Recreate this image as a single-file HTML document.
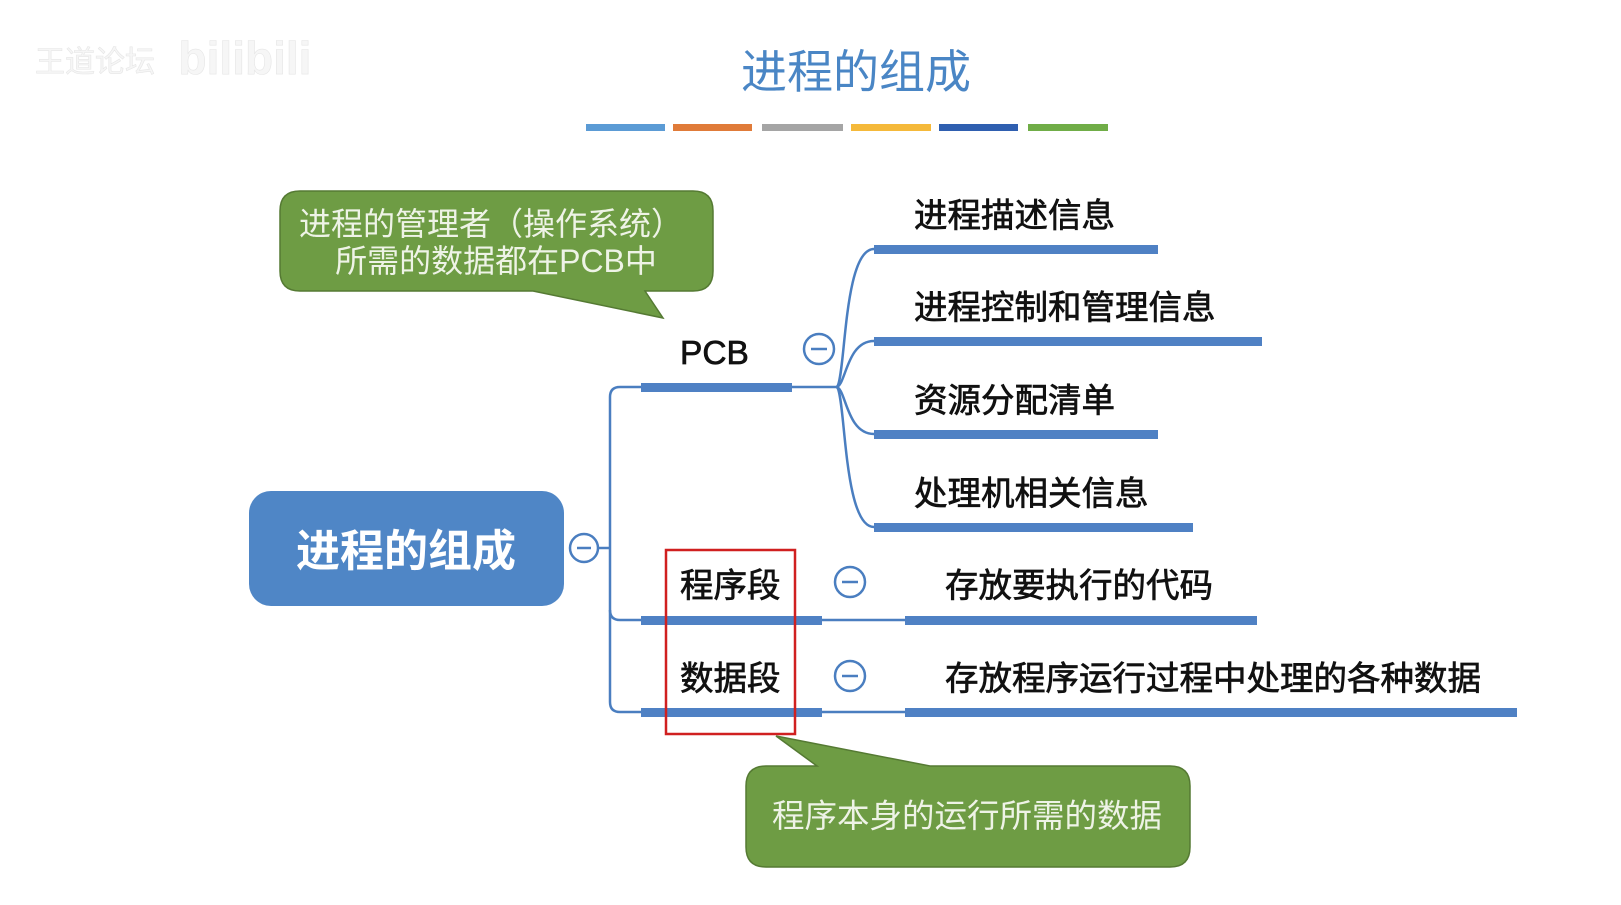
<!DOCTYPE html>
<html><head><meta charset="utf-8"><style>
html,body{margin:0;padding:0;background:#fff;width:1621px;height:905px;overflow:hidden}
svg{display:block}
text{font-family:"Liberation Sans","Noto Sans CJK SC",sans-serif}
</style></head><body>
<svg width="1621" height="905" viewBox="0 0 1621 905" xmlns="http://www.w3.org/2000/svg">
<text x="95" y="72" font-size="30" fill="#f6f6f6" stroke="#e6e6e6" stroke-width="0.6" text-anchor="middle">王道论坛</text>
<text x="245" y="74" font-size="46" font-weight="bold" fill="#f6f6f6" stroke="#e6e6e6" stroke-width="0.6" text-anchor="middle">bilibili</text>

<text x="856" y="88" font-size="46" fill="#4a86c5" text-anchor="middle">进程的组成</text>
<g>
<rect x="586" y="124" width="79" height="7" fill="#5b9bd5"/>
<rect x="673" y="124" width="79" height="7" fill="#e07b39"/>
<rect x="762" y="124" width="81" height="7" fill="#a5a5a5"/>
<rect x="851" y="124" width="80" height="7" fill="#f5b93a"/>
<rect x="939" y="124" width="79" height="7" fill="#2f5fb0"/>
<rect x="1028" y="124" width="80" height="7" fill="#70ad47"/>
</g>

<!-- callout 1 -->
<path d="M300,191 H693 Q713,191 713,211 V271 Q713,291 693,291 H645 L663,318 L533,291 H300 Q280,291 280,271 V211 Q280,191 300,191 Z" fill="#6e9c44" stroke="#557a33" stroke-width="1.5"/>
<text x="491" y="235" font-size="32" fill="#eef3e6" text-anchor="middle">进程的管理者（操作系统）</text>
<text x="496" y="272" font-size="32" fill="#eef3e6" text-anchor="middle">所需的数据都在PCB中</text>

<!-- root -->
<rect x="249" y="491" width="315" height="115" rx="22" fill="#4f86c6"/>
<text x="406" y="566" font-size="44" font-weight="bold" fill="#fff" text-anchor="middle">进程的组成</text>

<g fill="none" stroke="#4a7ec0" stroke-width="2.5">
<circle cx="584" cy="548" r="14" fill="#fff"/>
<line x1="598" y1="548" x2="610" y2="548"/>
<path d="M641,387 H620 Q610,387 610,397 V702 Q610,712 620,712 H641"/>
<path d="M610,610 Q610,620 620,620 H641"/>
<line x1="791" y1="387" x2="836" y2="387"/>
<path d="M836,387 C846,387 842,249 874,249"/>
<path d="M836,387 C846,387 846,341 874,341"/>
<path d="M836,387 C846,387 846,434 874,434"/>
<path d="M836,387 C846,387 842,527 874,527"/>
<line x1="822" y1="620" x2="905" y2="620"/>
<line x1="822" y1="712" x2="905" y2="712"/>
<circle cx="819" cy="349" r="15" fill="#fff"/>
<circle cx="850" cy="582" r="15" fill="#fff"/>
<circle cx="850" cy="676" r="15" fill="#fff"/>
</g>
<g stroke="#4a7ec0" stroke-width="2.5">
<line x1="577" y1="548" x2="591" y2="548"/>
<line x1="811" y1="349" x2="827" y2="349"/>
<line x1="842" y1="582" x2="858" y2="582"/>
<line x1="842" y1="676" x2="858" y2="676"/>
</g>

<g fill="#4f81c4">
<rect x="641" y="383" width="151" height="9"/>
<rect x="874" y="245" width="284" height="9"/>
<rect x="874" y="337" width="388" height="9"/>
<rect x="874" y="430" width="284" height="9"/>
<rect x="874" y="523" width="319" height="9"/>
<rect x="641" y="616" width="181" height="9"/>
<rect x="905" y="616" width="352" height="9"/>
<rect x="641" y="708" width="181" height="9"/>
<rect x="905" y="708" width="612" height="9"/>
</g>

<g font-size="33.5" fill="#111" stroke="#111" stroke-width="0.7">
<text x="680" y="364">PCB</text>
<text x="914" y="227">进程描述信息</text>
<text x="914" y="319">进程控制和管理信息</text>
<text x="914" y="412">资源分配清单</text>
<text x="914" y="505">处理机相关信息</text>
<text x="680" y="597">程序段</text>
<text x="945" y="597">存放要执行的代码</text>
<text x="680" y="690">数据段</text>
<text x="945" y="690">存放程序运行过程中处理的各种数据</text>
</g>

<rect x="666" y="550" width="129" height="184" fill="none" stroke="#d02020" stroke-width="2.5"/>

<!-- callout 2 -->
<path d="M766,766 H817 L776,736 L930,766 H1170 Q1190,766 1190,786 V847 Q1190,867 1170,867 H766 Q746,867 746,847 V786 Q746,766 766,766 Z" fill="#6e9c44" stroke="#557a33" stroke-width="1.5"/>
<text x="967" y="827" font-size="32.5" fill="#eef3e6" text-anchor="middle">程序本身的运行所需的数据</text>
</svg>
</body></html>
